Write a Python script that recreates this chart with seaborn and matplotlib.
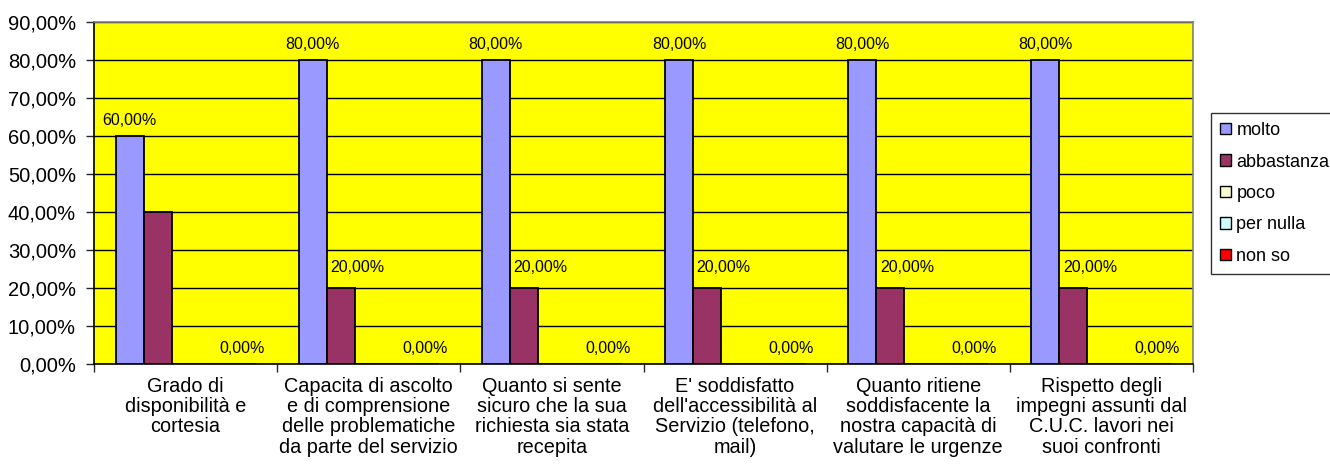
import pandas as pd
import matplotlib.pyplot as plt
import seaborn as sns
from matplotlib.ticker import FuncFormatter, FixedLocator

# Data
categories = [
    "Grado di\ndisponibilità e\ncortesia",
    "Capacita di ascolto\ne di comprensione\ndelle problematiche\nda parte del servizio",
    "Quanto si sente\nsicuro che la sua\nrichiesta sia stata\nrecepita",
    "E' soddisfatto\ndell'accessibilità al\nServizio (telefono,\nmail)",
    "Quanto ritiene\nsoddisfacente la\nnostra capacità di\nvalutare le urgenze",
    "Rispetto degli\nimpegni assunti dal\nC.U.C. lavori nei\nsuoi confronti",
]
series = ["molto", "abbastanza", "poco", "per nulla", "non so"]
molto = [60, 80, 80, 80, 80, 80]
abbastanza = [40, 20, 20, 20, 20, 20]
poco = [0, 0, 0, 0, 0, 0]
per_nulla = [0, 0, 0, 0, 0, 0]
non_so = [0, 0, 0, 0, 0, 0]
colors = ["#9999FF", "#993366", "#FFFFCC", "#CCFFFF", "#FF0000"]

rows = []
for name, vals in zip(series, [molto, abbastanza, poco, per_nulla, non_so]):
    for cat, v in zip(categories, vals):
        rows.append({"categoria": cat, "serie": name, "valore": v})
df = pd.DataFrame(rows)

sns.set_style("white")
plt.rcParams['font.family'] = ['Liberation Sans', 'DejaVu Sans']
plt.rcParams['text.color'] = 'black'

fig = plt.figure(figsize=(13.3, 4.66), dpi=100)
ax = fig.add_axes([94 / 1330, 1 - 364 / 466, 1099 / 1330, 342 / 466])
ax.set_facecolor("#FFFF00")

sns.barplot(data=df, x="categoria", y="valore", hue="serie", order=categories,
            hue_order=series, palette=colors, width=0.765, gap=0,
            edgecolor="black", linewidth=1.3, saturation=1, ax=ax, zorder=3)

fmt = lambda v: f"{v:.2f}%".replace(".", ",")

# data labels: molto, abbastanza (not first group, shifted right), non so
ax.bar_label(ax.containers[0], labels=[fmt(v) for v in molto], padding=6, fontsize=11.5)
lab_ab = ax.bar_label(ax.containers[1], labels=[""] + [fmt(v) for v in abbastanza[1:]],
                      padding=9.5, fontsize=11.5)
for t in lab_ab:
    t.xyann = (12, 9.5)
ax.bar_label(ax.containers[4], labels=[fmt(v) for v in non_so], padding=6, fontsize=11.5)

ax.set_ylim(0, 90)
ax.set_xlim(-0.5, len(categories) - 0.5)
ax.set_yticks(range(0, 91, 10))
ax.yaxis.set_major_formatter(FuncFormatter(lambda v, p: fmt(v)))
ax.grid(axis="y", color="black", linewidth=1, zorder=0)
ax.set_axisbelow(True)

ax.tick_params(axis="y", labelsize=14.5, length=6, width=1, direction="out", left=True,
               pad=7, labelcolor="black")
ax.tick_params(axis="x", which="major", labelsize=14.3, length=0, pad=9, labelcolor="black")
ax.xaxis.set_minor_locator(FixedLocator([i - 0.5 for i in range(len(categories) + 1)]))
ax.tick_params(axis="x", which="minor", length=6, width=1, direction="out", bottom=True)
for t in ax.get_xticklabels():
    t.set_linespacing(1.1)

for s in ["left", "bottom"]:
    ax.spines[s].set_color("black")
    ax.spines[s].set_linewidth(1.2)
for s in ["top", "right"]:
    ax.spines[s].set_color("#808080")
    ax.spines[s].set_linewidth(1.2)

ax.set_xlabel("")
ax.set_ylabel("")

leg = ax.legend(loc="center left", bbox_to_anchor=(1.0164, 0.4985), frameon=True,
                fancybox=False, edgecolor="black", fontsize=13, handlelength=0.6,
                handleheight=0.6, handletextpad=0.3, labelspacing=0.8,
                borderpad=0.5, borderaxespad=0)
leg.get_frame().set_linewidth(1)
for h in leg.legend_handles:
    h.set_edgecolor("black")
    h.set_linewidth(1)

fig.savefig("out.png", dpi=100)
